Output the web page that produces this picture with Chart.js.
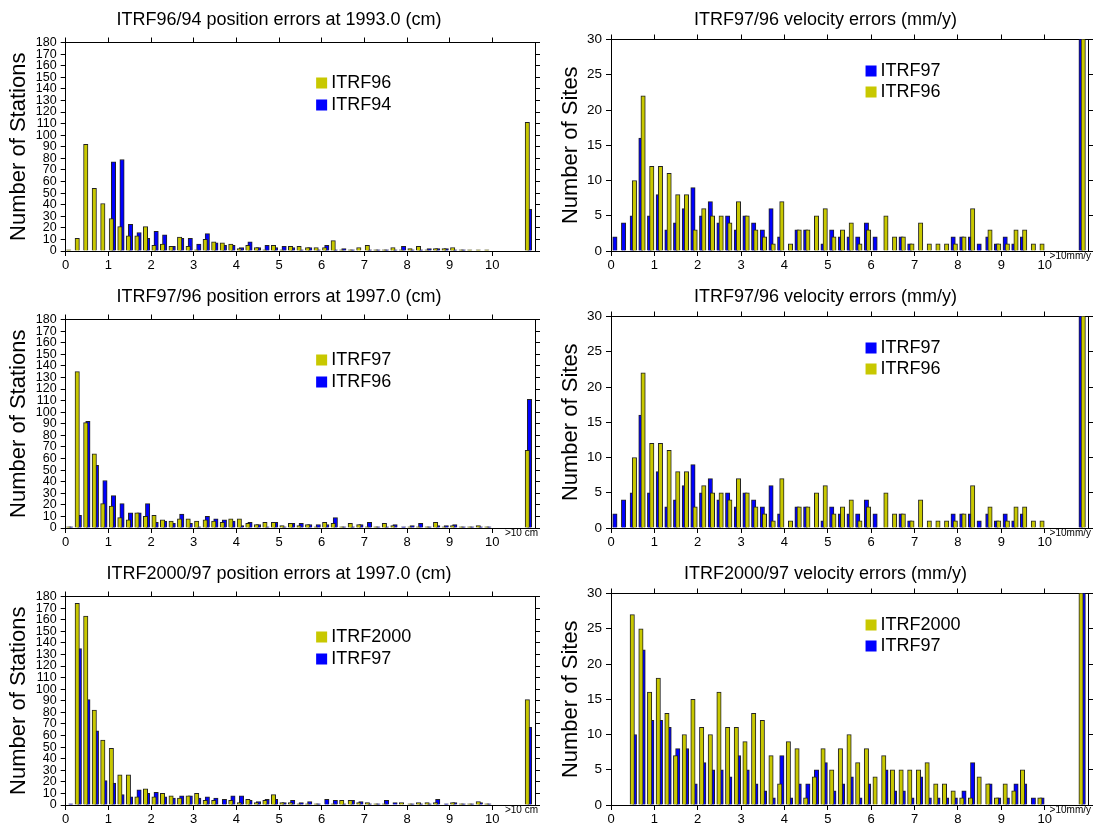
<!DOCTYPE html>
<html lang="en">
<head>
<meta charset="UTF-8" />
<title>ITRF position and velocity error histograms</title>
<script src="https://cdn.jsdelivr.net/npm/chart.js@4.4.1/dist/chart.umd.min.js"></script>
<style>
  body { margin: 0; padding: 0; background: #fff; }
  .sheet { position: relative; width: 1093px; height: 827px; overflow: hidden; }
  .sheet canvas { position: absolute; }
</style>
</head>
<body>
<div class="sheet">
  <canvas id="pos9694" width="558" height="273" style="left:0;top:0"></canvas>
  <canvas id="vel9796a" width="535" height="273" style="left:558px;top:0"></canvas>
  <canvas id="pos9796" width="558" height="273" style="left:0;top:277px"></canvas>
  <canvas id="vel9796b" width="535" height="273" style="left:558px;top:277px"></canvas>
  <canvas id="pos0097" width="558" height="273" style="left:0;top:554px"></canvas>
  <canvas id="vel0097" width="535" height="273" style="left:558px;top:554px"></canvas>
</div>
<script>
// bin centres (cm or mm/y), last bin holds everything above 10
const binCenters = [0.1, 0.3, 0.5, 0.7, 0.9, 1.1, 1.3, 1.5, 1.7, 1.9,
  2.1, 2.3, 2.5, 2.7, 2.9, 3.1, 3.3, 3.5, 3.7, 3.9,
  4.1, 4.3, 4.5, 4.7, 4.9, 5.1, 5.3, 5.5, 5.7, 5.9,
  6.1, 6.3, 6.5, 6.7, 6.9, 7.1, 7.3, 7.5, 7.7, 7.9,
  8.1, 8.3, 8.5, 8.7, 8.9, 9.1, 9.3, 9.5, 9.7, 9.9, 10.85]
const xTickValues = [0, 1, 2, 3, 4, 5, 6, 7, 8, 9, 10]
const stationTicks = [0, 10, 20, 30, 40, 50, 60, 70, 80, 90, 100, 110, 120, 130, 140, 150, 160, 170, 180]
const siteTicks = [0, 5, 10, 15, 20, 25, 30]

// position errors, number of stations per bin
const posItrf96 = [1, 11, 92, 54, 41, 28, 21, 13, 13, 21,
  5, 6, 4, 12, 4, 1, 10, 8, 7, 6,
  2, 5, 3, 1, 5, 1, 4, 4, 3, 3,
  3, 9, 1, 1, 3, 5, 1, 1, 3, 1,
  2, 4, 1, 2, 2, 3, 1, 1, 1, 1, 111]
const posItrf94 = [0, 0, 0, 0, 0, 77, 79, 23, 16, 11,
  17, 14, 4, 11, 11, 6, 15, 7, 5, 5,
  3, 8, 3, 5, 3, 4, 3, 1, 3, 1,
  5, 1, 2, 1, 0, 1, 1, 1, 1, 4,
  1, 1, 2, 2, 2, 1, 1, 0, 0, 0, 36]
const posItrf97 = [1, 135, 91, 64, 21, 19, 9, 7, 13, 10,
  11, 7, 6, 8, 8, 6, 7, 6, 5, 8,
  8, 4, 3, 5, 5, 2, 4, 2, 3, 1,
  5, 4, 1, 4, 3, 1, 1, 4, 2, 0,
  1, 1, 1, 5, 1, 2, 1, 1, 2, 1, 67]
const posItrf2000 = [0, 174, 163, 82, 56, 49, 26, 26, 7, 14,
  7, 10, 8, 6, 8, 10, 4, 4, 0, 4,
  2, 5, 2, 4, 9, 2, 2, 1, 1, 1,
  0, 1, 4, 4, 2, 2, 1, 1, 0, 2,
  1, 2, 2, 2, 0, 2, 1, 1, 3, 1, 91]

// velocity errors, number of sites per bin (last bin runs off the top)
const velSetA = [2, 4, 5, 16, 5, 8, 3, 4, 6, 9,
  5, 7, 4, 5, 3, 5, 4, 3, 6, 2,
  0, 3, 3, 0, 1, 3, 2, 2, 2, 4,
  2, 0, 0, 2, 1, 0, 0, 0, 0, 2,
  2, 2, 1, 2, 1, 2, 1, 2, 0, 0, 45]
const velSetB = [0, 0, 10, 22, 12, 12, 11, 8, 8, 3,
  6, 5, 5, 4, 7, 5, 3, 2, 1, 7,
  1, 3, 3, 5, 6, 2, 3, 4, 1, 3,
  0, 5, 2, 2, 1, 4, 1, 1, 1, 1,
  2, 6, 0, 3, 1, 1, 3, 3, 1, 1, 45]
const velSetC = [0, 0, 27, 25, 16, 18, 13, 7, 10, 15,
  11, 10, 16, 11, 11, 9, 13, 12, 7, 3,
  9, 8, 1, 4, 8, 5, 8, 10, 6, 8,
  4, 7, 5, 5, 5, 5, 6, 3, 3, 2,
  1, 1, 4, 3, 1, 3, 2, 5, 0, 1, 45]

const YELLOW = '#c8c800'
const BLUE = '#0000ff'
const EDGE = '#222222'
const FONT = "'Liberation Sans', Arial, Helvetica, sans-serif"

Chart.defaults.font.family = FONT
Chart.defaults.color = '#000'
Chart.defaults.animation = false

// column geometry, in canvas pixels
const columns = {
  left: { yWidth: 65.7, y2Width: 23, topAxis: 7.9, yTitlePad: 8, yFont: 12.5, shifts: [-0.03, 0.02], legendTop: 35, legendRow: 22 },
  right: { yWidth: 53, y2Width: 5, topAxis: 4.9, yTitlePad: 2, yFont: 13.5, shifts: [-0.01, 0.04], legendTop: 26, legendRow: 21 },
}

const insetLegend = {
  id: 'insetLegend',
  afterDatasetsDraw(chart, args, opts) {
    const { ctx, chartArea, scales } = chart
    const left = scales.x.getPixelForValue(opts.atX)
    ctx.save()
    ctx.font = '18px ' + FONT
    ctx.textBaseline = 'middle'
    chart.data.datasets.forEach((ds, row) => {
      const cy = chartArea.top + opts.top + row * opts.row + 5.5
      ctx.fillStyle = ds.backgroundColor
      ctx.fillRect(left, cy - 5.5, 11, 11)
      ctx.fillStyle = '#000'
      ctx.fillText(ds.label, left + 15, cy)
    })
    ctx.restore()
  },
}

const overflowNote = {
  id: 'overflowNote',
  afterDraw(chart, args, opts) {
    if (!opts.text) return
    const { ctx, chartArea } = chart
    ctx.save()
    ctx.font = '10px ' + FONT
    ctx.textAlign = 'right'
    ctx.textBaseline = 'top'
    ctx.fillStyle = '#000'
    ctx.fillText(opts.text, chartArea.right + 3, chartArea.bottom + 0.5)
    ctx.restore()
  },
}

const setTicks = (values) => (scale) => {
  scale.ticks = values.map((v) => ({ value: v }))
}

function xAxis(position, col, showLabels) {
  return {
    type: 'linear',
    position: position,
    min: 0,
    max: 11,
    offset: false,
    afterBuildTicks: setTicks(xTickValues),
    ticks: { display: showLabels, autoSkip: false, maxRotation: 0, padding: 2, font: { size: 13 } },
    grid: { drawOnChartArea: false, offset: false, tickLength: 5, color: '#000' },
    border: { color: '#000' },
    afterFit: (s) => { s.height = position === 'top' ? col.topAxis : 22 },
  }
}

function yAxis(position, col, ticks, title) {
  const isLeft = position === 'left'
  return {
    type: 'linear',
    position: position,
    min: 0,
    max: ticks[ticks.length - 1],
    afterBuildTicks: setTicks(ticks),
    ticks: { display: isLeft, autoSkip: false, padding: 4, font: { size: col.yFont } },
    grid: { drawOnChartArea: false, tickLength: 5, color: '#000' },
    border: { color: '#000' },
    title: {
      display: isLeft,
      text: title,
      font: { size: 22, lineHeight: 1 },
      padding: { top: col.yTitlePad, bottom: 0 },
    },
    afterFit: (s) => { s.width = isLeft ? col.yWidth : col.y2Width },
  }
}

function drawPanel(p) {
  const col = columns[p.side]
  const datasets = p.series.map(([label, values, color], k) => ({
    label: label,
    data: binCenters.map((c, i) => ({ x: c + col.shifts[k], y: values[i] })),
    backgroundColor: color,
    borderColor: EDGE,
    borderWidth: 1,
    barThickness: 4.4,
    grouped: false,
    order: color === YELLOW ? 0 : 1,
  }))

  new Chart(document.getElementById(p.canvas), {
    type: 'bar',
    data: { datasets },
    options: {
      responsive: false,
      layout: { padding: 0 },
      plugins: {
        title: {
          display: true,
          text: p.title,
          color: '#000',
          font: { size: 18, weight: 'normal', lineHeight: 1.2 },
          padding: { top: 9, bottom: 4 },
        },
        legend: { display: false },
        tooltip: { enabled: false },
        insetLegend: { atX: 5.87, top: col.legendTop, row: col.legendRow },
        overflowNote: { text: p.note },
      },
      scales: {
        x: xAxis('bottom', col, true),
        xTop: xAxis('top', col, false),
        y: yAxis('left', col, p.yTicks, p.yTitle),
        yRight: yAxis('right', col, p.yTicks, p.yTitle),
      },
    },
    plugins: [insetLegend, overflowNote],
  })
}

const panels = [
  { canvas: 'pos9694', side: 'left', title: 'ITRF96/94 position errors at 1993.0 (cm)',
    yTitle: 'Number of Stations', yTicks: stationTicks, note: '',
    series: [['ITRF96', posItrf96, YELLOW], ['ITRF94', posItrf94, BLUE]] },
  { canvas: 'vel9796a', side: 'right', title: 'ITRF97/96 velocity errors (mm/y)',
    yTitle: 'Number of Sites', yTicks: siteTicks, note: '>10mm/y',
    series: [['ITRF97', velSetA, BLUE], ['ITRF96', velSetB, YELLOW]] },
  { canvas: 'pos9796', side: 'left', title: 'ITRF97/96 position errors at 1997.0 (cm)',
    yTitle: 'Number of Stations', yTicks: stationTicks, note: '>10 cm',
    series: [['ITRF97', posItrf97, YELLOW], ['ITRF96', posItrf96, BLUE]] },
  { canvas: 'vel9796b', side: 'right', title: 'ITRF97/96 velocity errors (mm/y)',
    yTitle: 'Number of Sites', yTicks: siteTicks, note: '>10mm/y',
    series: [['ITRF97', velSetA, BLUE], ['ITRF96', velSetB, YELLOW]] },
  { canvas: 'pos0097', side: 'left', title: 'ITRF2000/97 position errors at 1997.0 (cm)',
    yTitle: 'Number of Stations', yTicks: stationTicks, note: '>10 cm',
    series: [['ITRF2000', posItrf2000, YELLOW], ['ITRF97', posItrf97, BLUE]] },
  { canvas: 'vel0097', side: 'right', title: 'ITRF2000/97 velocity errors (mm/y)',
    yTitle: 'Number of Sites', yTicks: siteTicks, note: '>10mm/y',
    series: [['ITRF2000', velSetC, YELLOW], ['ITRF97', velSetB, BLUE]] },
]

panels.forEach(drawPanel)
</script>
</body>
</html>
